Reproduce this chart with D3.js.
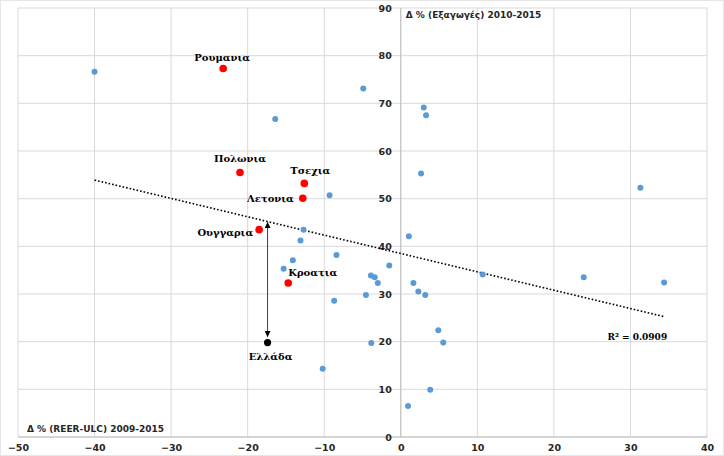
<!DOCTYPE html>
<html>
<head>
<meta charset="utf-8">
<script src="https://cdn.jsdelivr.net/npm/d3@7"></script>
<style>
  body { margin: 0; background: #fff; }
  svg { display: block; }
</style>
</head>
<body>
<div id="chart"></div>
<script>
// Other countries: Δ% REER-ULC 2009-2015 (x) vs Δ% exports 2010-2015 (y)
var otherX = [-40.0, -16.4, -4.9, 3.0, 3.3, 2.65, 31.3, -9.3, -12.7, -13.1, 1.05, -8.4, -14.1, -15.3,
              -1.5, -3.9, -3.4, -3.0, 1.65, 2.3, 3.2, -4.55, -8.7, -3.85, -10.2, 4.9, 5.55, 3.85, 0.95,
              10.7, 23.9, 34.4];
var otherY = [76.6, 66.7, 73.1, 69.1, 67.5, 55.3, 52.3, 50.7, 43.5, 41.2, 42.1, 38.2, 37.1, 35.3,
              36.0, 33.9, 33.5, 32.3, 32.3, 30.5, 29.8, 29.8, 28.6, 19.7, 14.3, 22.4, 19.8, 9.9, 6.5,
              34.1, 33.5, 32.4];

// Highlighted countries
var namedCountries = ["Ρουμανια", "Πολωνια", "Τσεχια", "Λετονια", "Ουγγαρια", "Κροατια"];
var namedX = [-23.2, -21.0, -12.6, -12.8, -18.5, -14.7];
var namedY = [77.3, 55.5, 53.2, 50.1, 43.5, 32.3];

var greeceName = "Ελλάδα";
var greeceX = -17.4;
var greeceY = 19.8;

// Linear trend line
var trendSlope = -0.385;
var trendIntercept = 38.5;
var trendRange = [-40, 34.5];
var rSquaredText = "R² = 0.0909";

var xTicks = [-50, -40, -30, -20, -10, 0, 10, 20, 30, 40];
var yTicks = [0, 10, 20, 30, 40, 50, 60, 70, 80, 90];
var xTitle = "Δ % (REER-ULC) 2009-2015";
var yTitle = "Δ % (Εξαγωγές) 2010-2015";

var W = 724, H = 456;
var margin = {top: 8, right: 17, bottom: 19, left: 18};
var width = W - margin.left - margin.right,
    height = H - margin.top - margin.bottom;

var svg = d3.select("#chart").append("svg")
    .attr("width", W)
    .attr("height", H);

svg.append("rect")
    .attr("x", 0.5).attr("y", 0.5)
    .attr("width", W - 1).attr("height", H - 1)
    .attr("fill", "#fff")
    .attr("stroke", "#e6e6e6");

var g = svg.append("g")
    .attr("transform", "translate(" + margin.left + "," + margin.top + ")");

var x = d3.scaleLinear().domain([-50, 40]).range([0, width]);
var y = d3.scaleLinear().domain([0, 90]).range([height, 0]);

// grid
g.selectAll(".vgrid")
    .data(xTicks)
    .enter().append("line")
    .attr("x1", function(d) { return x(d); })
    .attr("x2", function(d) { return x(d); })
    .attr("y1", 0).attr("y2", height)
    .attr("stroke", "#d9d9d9")
    .attr("stroke-width", 1);

g.selectAll(".hgrid")
    .data(yTicks)
    .enter().append("line")
    .attr("y1", function(d) { return y(d); })
    .attr("y2", function(d) { return y(d); })
    .attr("x1", 0).attr("x2", width)
    .attr("stroke", "#d9d9d9")
    .attr("stroke-width", 1);

// zero axes
g.append("line")
    .attr("x1", x(0)).attr("x2", x(0))
    .attr("y1", 0).attr("y2", height)
    .attr("stroke", "#bfbfbf");
g.append("line")
    .attr("x1", 0).attr("x2", width)
    .attr("y1", y(0)).attr("y2", y(0))
    .attr("stroke", "#bfbfbf");

// tick labels
var tickFont = "'DejaVu Sans', Verdana, sans-serif";
g.append("g")
    .attr("transform", "translate(0," + height + ")")
    .call(d3.axisBottom(x).tickValues(xTicks).tickSize(0).tickPadding(7))
    .call(function(a) { a.select(".domain").remove(); })
    .selectAll("text")
    .attr("font-family", tickFont)
    .attr("font-size", "9.5px")
    .attr("font-weight", "bold")
    .attr("fill", "#262626");

g.append("g")
    .attr("transform", "translate(" + x(0) + ",0)")
    .call(d3.axisLeft(y).tickValues(yTicks).tickSize(0).tickPadding(9))
    .call(function(a) { a.select(".domain").remove(); })
    .selectAll("text")
    .attr("font-family", tickFont)
    .attr("font-size", "9.5px")
    .attr("font-weight", "bold")
    .attr("fill", "#262626");

// axis titles
g.append("text")
    .attr("x", x(0) + 5).attr("y", 10)
    .attr("font-family", tickFont)
    .attr("font-size", "9px")
    .attr("font-weight", "bold")
    .attr("fill", "#262626")
    .text(yTitle);

g.append("text")
    .attr("x", 9).attr("y", height - 5)
    .attr("font-family", tickFont)
    .attr("font-size", "9px")
    .attr("font-weight", "bold")
    .attr("fill", "#262626")
    .text(xTitle);

// trend line
g.append("line")
    .attr("x1", x(trendRange[0]))
    .attr("y1", y(trendIntercept + trendSlope * trendRange[0]))
    .attr("x2", x(trendRange[1]))
    .attr("y2", y(trendIntercept + trendSlope * trendRange[1]))
    .attr("stroke", "#000")
    .attr("stroke-width", 1.6)
    .attr("stroke-dasharray", "1.6,2");

var labelFont = "'DejaVu Serif', 'Liberation Serif', serif";
g.append("text")
    .attr("x", x(27)).attr("y", y(20.3))
    .attr("font-family", labelFont)
    .attr("font-size", "9px")
    .attr("font-weight", "bold")
    .text(rSquaredText);

// arrow Greece -> trend line
var defs = svg.append("defs");
defs.append("marker")
    .attr("id", "arr")
    .attr("viewBox", "0 0 10 10")
    .attr("refX", 10).attr("refY", 5)
    .attr("markerWidth", 6).attr("markerHeight", 6)
    .attr("orient", "auto-start-reverse")
    .append("path")
    .attr("d", "M0,0 L10,5 L0,10 Z")
    .attr("fill", "#000");

g.append("line")
    .attr("x1", x(greeceX)).attr("x2", x(greeceX))
    .attr("y1", y(greeceY + 1.2))
    .attr("y2", y(trendIntercept + trendSlope * greeceX) + 0.5)
    .attr("stroke", "#404040")
    .attr("stroke-width", 1)
    .attr("marker-start", "url(#arr)")
    .attr("marker-end", "url(#arr)");

// other countries
g.selectAll(".other")
    .data(otherX)
    .enter().append("circle")
    .attr("cx", function(d) { return x(d); })
    .attr("cy", function(d, i) { return y(otherY[i]); })
    .attr("r", 3)
    .attr("fill", "#5b9bd5");

// highlighted
var named = namedCountries.map(function(n, i) {
    return {name: n, x: namedX[i], y: namedY[i]};
});
g.selectAll(".named")
    .data(named)
    .enter().append("circle")
    .attr("cx", function(d) { return x(d.x); })
    .attr("cy", function(d) { return y(d.y); })
    .attr("r", 3.8)
    .attr("fill", "#ff0000");

g.append("circle")
    .attr("cx", x(greeceX)).attr("cy", y(greeceY))
    .attr("r", 3.6)
    .attr("fill", "#000");

// label placement relative to the point: [dx, dy, anchor]
var placement = {
    "Ρουμανια": [-1, -8, "middle"],
    "Πολωνια": [0, -10, "middle"],
    "Τσεχια": [6, -9, "middle"],
    "Λετονια": [-9, 4, "end"],
    "Ουγγαρια": [-6, 6, "end"],
    "Κροατια": [0, -7, "start"]
};

g.selectAll(".lbl")
    .data(named)
    .enter().append("text")
    .attr("x", function(d) { return x(d.x) + placement[d.name][0]; })
    .attr("y", function(d) { return y(d.y) + placement[d.name][1]; })
    .attr("text-anchor", function(d) { return placement[d.name][2]; })
    .attr("font-family", labelFont)
    .attr("font-size", "10px")
    .attr("font-weight", "bold")
    .attr("fill", "#000")
    .text(function(d) { return d.name; });

g.append("text")
    .attr("x", x(greeceX) + 3).attr("y", y(greeceY) + 17)
    .attr("text-anchor", "middle")
    .attr("font-family", labelFont)
    .attr("font-size", "10px")
    .attr("font-weight", "bold")
    .text(greeceName);
</script>
</body>
</html>
